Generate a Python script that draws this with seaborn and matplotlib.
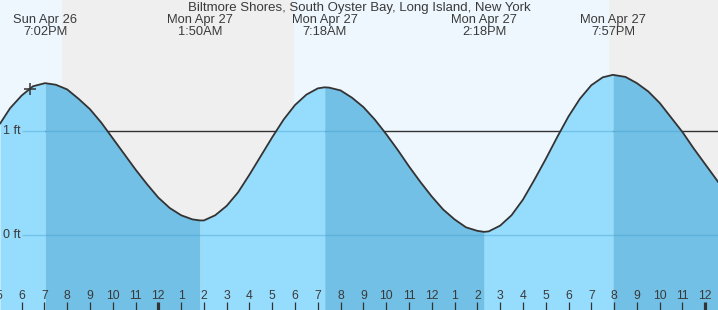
import numpy as np
import pandas as pd
import matplotlib
matplotlib.use("Agg")
import matplotlib.pyplot as plt
import seaborn as sns
from matplotlib.patches import Polygon

# ---------------- data (hours relative to midnight, Mon Apr 27) ----------------
title = "Biltmore Shores, South Oyster Bay, Long Island, New York"

curve_hours = [-6.946, -6.5, -6, -5.5, -4.967, -4.5, -4, -3.5, -3, -2.5, -2, -1.5, -1,
               -0.5, 0, 0.5, 1, 1.5, 1.833, 2, 2.5, 3, 3.5, 4, 4.5, 5, 5.5, 6, 6.5, 7,
               7.3, 7.5, 8, 8.5, 9, 9.5, 10, 10.5, 11, 11.5, 12, 12.5, 13, 13.5, 14,
               14.3, 14.5, 15, 15.5, 16, 16.5, 17, 17.5, 18, 18.5, 19, 19.5, 19.95,
               20.5, 21, 21.5, 22, 22.5, 23, 23.5, 24, 24.5, 24.56]
curve_feet = [1.07, 1.22, 1.34, 1.43, 1.46, 1.445, 1.40, 1.31, 1.21, 1.08, 0.93, 0.78,
              0.63, 0.49, 0.36, 0.26, 0.19, 0.15, 0.14, 0.14, 0.19, 0.28, 0.41, 0.58,
              0.76, 0.94, 1.11, 1.25, 1.35, 1.41, 1.42, 1.417, 1.39, 1.32, 1.23, 1.11,
              0.97, 0.82, 0.66, 0.51, 0.37, 0.245, 0.15, 0.074, 0.04, 0.03, 0.035,
              0.09, 0.19, 0.34, 0.53, 0.73, 0.94, 1.14, 1.31, 1.44, 1.516, 1.54, 1.52,
              1.46, 1.38, 1.27, 1.13, 0.99, 0.83, 0.68, 0.53, 0.51]

event_hours = [-4.967, 1.833, 7.3, 14.3, 19.95]
event_feet = [1.46, 0.14, 1.42, 0.03, 1.54]
event_day = ["Sun Apr 26", "Mon Apr 27", "Mon Apr 27", "Mon Apr 27", "Mon Apr 27"]
event_time = ["7:02PM", "1:50AM", "7:18AM", "2:18PM", "7:57PM"]

night_start = [-4.226, 19.776]
night_end = [5.954, 24.56]

hour_ticks = list(range(-7, 25))
hour_labels = [str((h % 12) or 12) for h in hour_ticks]

level_feet = [0, 1]
level_labels = ["0 ft", "1 ft"]

now_hour = [-5.63]
now_feet = [1.40]

# ---------------- styling ----------------
sns.set_style("white")
plt.rcParams['font.family'] = ['Liberation Sans', 'DejaVu Sans']

W, H = 718, 310
px_per_hour = 22.79
xmin = -158.3 / px_per_hour
xmax = xmin + W / px_per_hour
ymin = -(310 - 235) / 104.0
ymax = 1 + 131 / 104.0

day_sky = "#EEF7FE"
night_sky = "#EFEFEF"
rise_water = "#96DCFC"
fall_water = "#72C0E5"
ink = "#333333"
txt = "#3a3a3a"

fig = plt.figure(figsize=(W / 100, H / 100), dpi=100)
ax = fig.add_axes([0, 0, 1, 1])
ax.set_facecolor(day_sky)
ax.set_xlim(xmin, xmax)
ax.set_ylim(ymin, ymax)
for s in ax.spines.values():
    s.set_visible(False)

for a, b in zip(night_start, night_end):
    ax.axvspan(a, b, color=night_sky, lw=0, zorder=0)

df = pd.DataFrame({"hour": curve_hours, "feet": curve_feet})
t = df["hour"].to_numpy()
h = df["feet"].to_numpy()

line_x0 = xmin + 22 / px_per_hour
ax.hlines(1, line_x0, xmax, color=ink, lw=1.0, zorder=1)

bounds = [t[0]] + event_hours + [t[-1]]
for a, b in zip(bounds[:-1], bounds[1:]):
    m = (t >= a - 1e-9) & (t <= b + 1e-9)
    seg_h = h[m]
    col = rise_water if seg_h[-1] > seg_h[0] else fall_water
    ax.fill_between(t[m], ymin, seg_h, color=col, lw=0, zorder=2)

verts = [(t[0], ymin)] + list(zip(t, h)) + [(t[-1], ymin)]
clip = Polygon(verts, closed=True, transform=ax.transData)
for lv in level_feet:
    ln = ax.hlines(lv, line_x0, xmax, color="#3c9fd2", alpha=0.4, lw=1.0, zorder=3)
    ln.set_clip_path(clip)

sns.lineplot(data=df, x="hour", y="feet", ax=ax, color=ink, lw=1.3, zorder=4,
             sort=False, legend=False)
ax.plot(now_hour, now_feet, marker="+", ms=9, mew=1.1, color=ink, ls="none", zorder=5)

for lv, lab in zip(level_feet, level_labels):
    ax.text(3 / W, lv, lab, transform=ax.get_yaxis_transform(), ha="left", va="center",
            fontsize=9, color=txt, zorder=6)

# hour ticks drawn as short marks inside the bottom edge
ax.set_xticks([])
ax.set_yticks([])
tick_widths = [2.3 if hr % 24 == 0 else 0.9 for hr in hour_ticks]
ax.vlines(hour_ticks, 0, 8.5 / H, transform=ax.get_xaxis_transform(),
          colors=ink, linewidths=tick_widths, zorder=6)
for hr, lab in zip(hour_ticks, hour_labels):
    ax.text(hr, 14 / H, lab, transform=ax.get_xaxis_transform(), ha="center",
            va="center", fontsize=8.8, color=txt, zorder=6, clip_on=False)

ax.set_xlabel("")
ax.set_ylabel("")

fig.text(0.5, 1 - 8 / H, title, ha="center", va="center", fontsize=9.5, color=txt)
for eh, d, tm in zip(event_hours, event_day, event_time):
    ax.text(eh, 1 - 20 / H, d, transform=ax.get_xaxis_transform(), ha="center",
            va="center", fontsize=9.3, color=txt, zorder=6)
    ax.text(eh, 1 - 32 / H, tm, transform=ax.get_xaxis_transform(), ha="center",
            va="center", fontsize=9.3, color=txt, zorder=6)

fig.savefig("out.png", dpi=100)
